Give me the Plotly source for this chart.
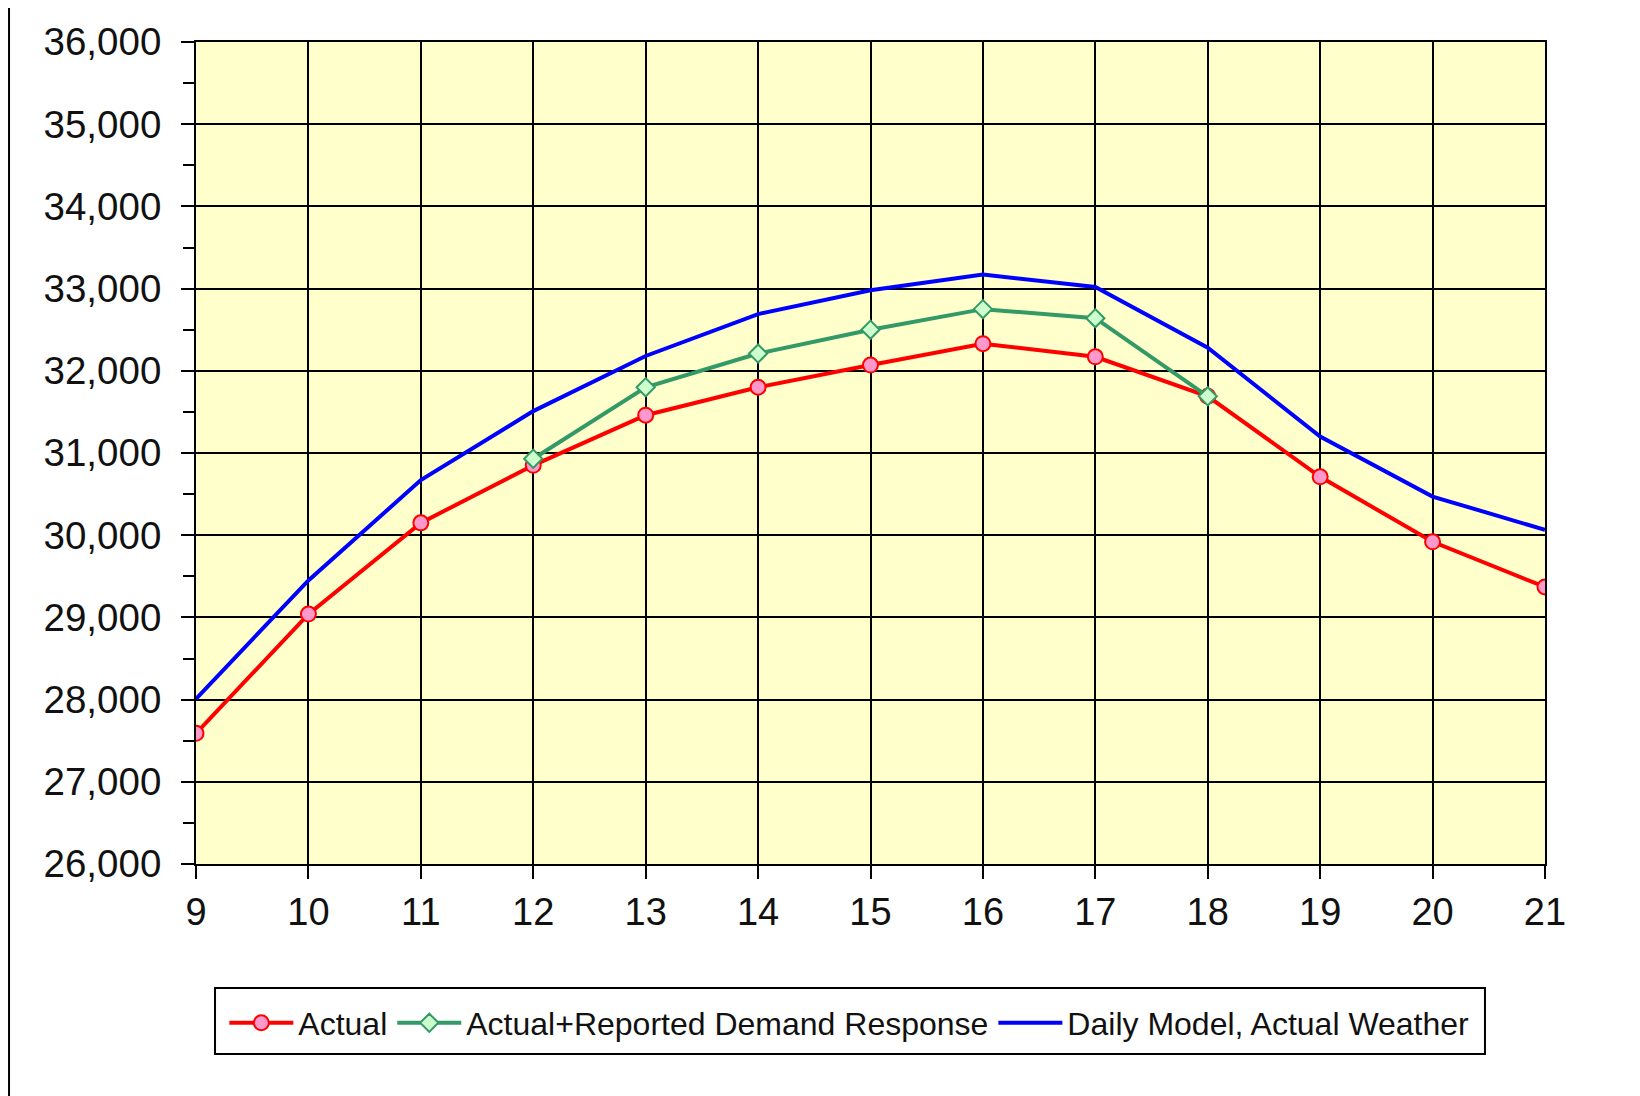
import plotly.graph_objects as go

hours = [9, 10, 11, 12, 13, 14, 15, 16, 17, 18, 19, 20, 21]
actual = [27590, 29040, 30150, 30850, 31460, 31800, 32070, 32330, 32170, 31690, 30710, 29920, 29370]
dr_hours = [12, 13, 14, 15, 16, 17, 18]
actual_dr = [30930, 31800, 32210, 32500, 32750, 32640, 31690]
model = [28010, 29450, 30670, 31510, 32180, 32690, 32980, 33170, 33020, 32280, 31200, 30470, 30065]

y_ticks = list(range(26000, 36001, 1000))
y_tick_labels = [f"{v:,}" for v in y_ticks]

FONT = "Liberation Sans, Arial, sans-serif"

fig = go.Figure()
fig.add_trace(go.Scatter(
    x=hours, y=actual, name="Actual", mode="lines+markers",
    line=dict(color="#FF0000", width=4),
    marker=dict(symbol="circle", size=15, color="#FF99CC", line=dict(color="#FF0000", width=2)),
))
fig.add_trace(go.Scatter(
    x=dr_hours, y=actual_dr, name="Actual+Reported Demand Response", mode="lines+markers",
    line=dict(color="#339966", width=4),
    marker=dict(symbol="diamond", size=14, color="#CCFFCC", line=dict(color="#339966", width=2)),
))
fig.add_trace(go.Scatter(
    x=hours, y=model, name="Daily Model, Actual Weather", mode="lines",
    line=dict(color="#0000FF", width=4),
))

# decorative left border line and legend frame
fig.add_shape(type="line", xref="paper", yref="paper", x0=-0.1386, x1=-0.1386, y0=-0.3, y1=1.06,
              line=dict(color="black", width=2))
fig.add_shape(type="rect", xref="paper", yref="paper", x0=0.0141, x1=0.9555, y0=-0.2311, y1=-0.1509,
              line=dict(color="black", width=2), fillcolor="white", layer="below")

fig.update_layout(
    width=1640, height=1096,
    margin=dict(l=188, r=103, t=34, b=240),
    paper_bgcolor="white",
    plot_bgcolor="#FFFFCC",
    font=dict(family=FONT, color="#111111", size=36),
    showlegend=True,
    legend=dict(
        orientation="h", xanchor="left", x=0.021, yanchor="middle", y=-0.1934,
        bgcolor="rgba(0,0,0,0)", borderwidth=0,
        font=dict(family=FONT, size=32, color="#111111"),
        itemwidth=64, tracegroupgap=0,
    ),
    xaxis=dict(
        range=[9, 21], tickmode="array", tickvals=hours, ticktext=[str(h) for h in hours],
        showgrid=True, gridcolor="black", gridwidth=2,
        showline=True, linecolor="black", linewidth=2, mirror=True,
        ticks="outside", ticklen=13, tickwidth=2, tickcolor="black",
        tickfont=dict(size=38), zeroline=False,
    ),
    yaxis=dict(
        range=[26000, 36000], tickmode="array", tickvals=y_ticks, ticktext=y_tick_labels,
        showgrid=True, gridcolor="black", gridwidth=2,
        showline=True, linecolor="black", linewidth=2, mirror=True,
        ticks="outside", ticklen=13, tickwidth=2, tickcolor="black",
        minor=dict(ticks="outside", ticklen=11, tickwidth=2, tickcolor="black", dtick=500, showgrid=False),
        tickfont=dict(size=38.5), zeroline=False, ticklabelstandoff=12,
    ),
)

fig.write_html("out.html")
